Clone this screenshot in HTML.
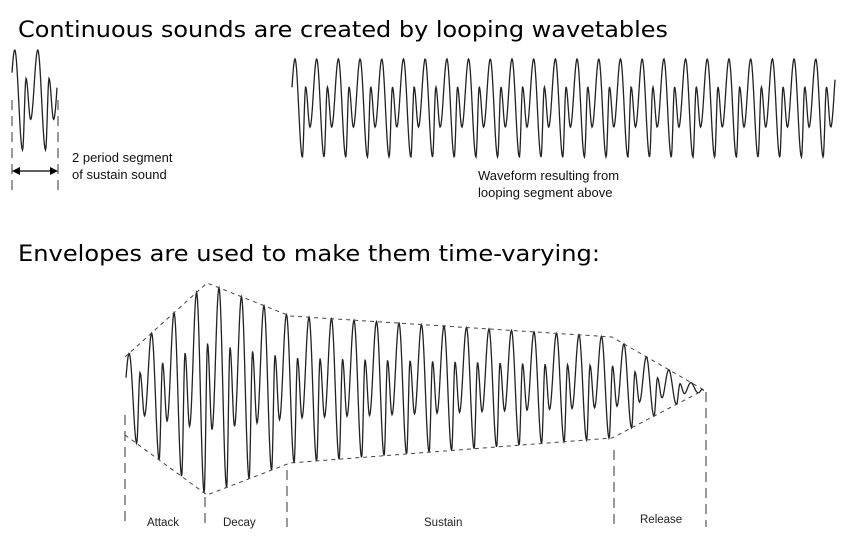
<!DOCTYPE html>
<html><head><meta charset="utf-8"><style>
html,body{margin:0;padding:0;background:#fff;}
svg{display:block;}
.t{font-family:"DejaVu Sans","Liberation Sans",sans-serif;font-size:22px;fill:#000;}
.s{font-family:"Liberation Sans",sans-serif;font-size:13px;fill:#111;}
.l{font-family:"Liberation Sans",sans-serif;font-size:11.5px;fill:#222;}
.d{stroke:#333;stroke-width:1;stroke-dasharray:10 6;fill:none;}
.e{stroke:#444;stroke-width:1;stroke-dasharray:4 4;fill:none;}
.w{stroke:#222;stroke-width:1.3;fill:none;}
</style></head><body>
<svg id="chart" width="854" height="554" viewBox="0 0 854 554">
<text class="t" x="18" y="37" textLength="650" lengthAdjust="spacingAndGlyphs">Continuous sounds are created by looping wavetables</text>
<text class="t" x="18" y="261" textLength="582" lengthAdjust="spacingAndGlyphs">Envelopes are used to make them time-varying:</text>
<line class="d" x1="12" y1="100" x2="12" y2="192"/>
<line class="d" x1="58" y1="100" x2="58" y2="192"/>
<line x1="14" y1="171" x2="56" y2="171" stroke="#000" stroke-width="1.3"/>
<polygon points="12,171 20,167 20,175" fill="#000"/>
<polygon points="58,171 50,167 50,175" fill="#000"/>
<text class="s" x="72" y="162">2 period segment</text>
<text class="s" x="72" y="179">of sustain sound</text>
<text class="s" x="478" y="180" font-size="12.5">Waveform resulting from</text>
<text class="s" x="478" y="197" font-size="12.5">looping segment above</text>
<g id="marks"></g>
<text class="l" x="147" y="526">Attack</text>
<text class="l" x="223" y="526">Decay</text>
<text class="l" x="424" y="526">Sustain</text>
<text class="l" x="640" y="523">Release</text>
</svg>
<script>
// waveform shape keypoints (phase, normalized value)
const shapePhase = [0, 0.34, 0.49, 0.69, 1];
const shapeValue = [1.0, -1.0, 0.43, -0.39, 1.0];
// envelope breakpoints (time in px-space of diagram)
const envX = [125, 207, 290, 612, 704];
const envUpper = [357, 283, 316, 337, 390];
const envLower = [435, 495, 463, 438, 390];
// phase boundaries
const boundX = [125, 205, 287, 614, 706];
const boundTop = [415, 497, 470, 450, 392];

const NS = "http://www.w3.org/2000/svg";
const g = document.getElementById('marks');
function shape(p){
  p = ((p % 1) + 1) % 1;
  for (let i = 0; i < shapePhase.length - 1; i++) {
    if (p <= shapePhase[i+1]) {
      const t = (p - shapePhase[i]) / (shapePhase[i+1] - shapePhase[i]);
      const k = (1 - Math.cos(Math.PI * t)) / 2;
      return shapeValue[i] + (shapeValue[i+1] - shapeValue[i]) * k;
    }
  }
  return shapeValue[0];
}
function interp(xs, ys, x){
  if (x <= xs[0]) return ys[0];
  for (let i = 0; i < xs.length - 1; i++) if (x <= xs[i+1]) return ys[i] + (ys[i+1]-ys[i])*(x-xs[i])/(xs[i+1]-xs[i]);
  return ys[ys.length-1];
}
function path(d, cls, name){
  const p = document.createElementNS(NS, 'path');
  p.setAttribute('d', d); p.setAttribute('class', cls);
  
  
  g.appendChild(p);
}
// small segment
let d = '';
for (let x = 12; x <= 57; x += 0.5) {
  const y = 100 - 50 * shape((x - 12) / 23 - 0.12);
  d += (d ? 'L' : 'M') + x.toFixed(1) + ' ' + y.toFixed(1);
}
path(d, 'w', 'sustain-segment-waveform');
// looping waveform
d = '';
for (let x = 292; x <= 835; x += 0.5) {
  const y = 108 - 49 * shape((x - 295) / 21.7);
  d += (d ? 'L' : 'M') + x.toFixed(1) + ' ' + y.toFixed(1);
}
path(d, 'w', 'looped-waveform');
// enveloped waveform
d = '';
for (let x = 126; x <= 703; x += 0.5) {
  const u = interp(envX, envUpper, x), l = interp(envX, envLower, x);
  const c = (u + l) / 2, a = (l - u) / 2;
  const y = c - a * shape((x - 129) / 22.5);
  d += (d ? 'L' : 'M') + x.toFixed(1) + ' ' + y.toFixed(1);
}
path(d, 'w', 'enveloped-waveform');
// envelopes
let du = '', dl = '';
envX.forEach((x, i) => { du += (i ? 'L' : 'M') + x + ' ' + envUpper[i]; dl += (i ? 'L' : 'M') + x + ' ' + envLower[i]; });
path(du, 'e', 'upper-envelope');
path(dl, 'e', 'lower-envelope');
boundX.forEach((x, i) => {
  const ln = document.createElementNS(NS, 'line');
  ln.setAttribute('x1', x); ln.setAttribute('x2', x);
  ln.setAttribute('y1', boundTop[i]); ln.setAttribute('y2', 527);
  ln.setAttribute('class', 'd');
  
  
  g.appendChild(ln);
});
</script>
</body></html>
